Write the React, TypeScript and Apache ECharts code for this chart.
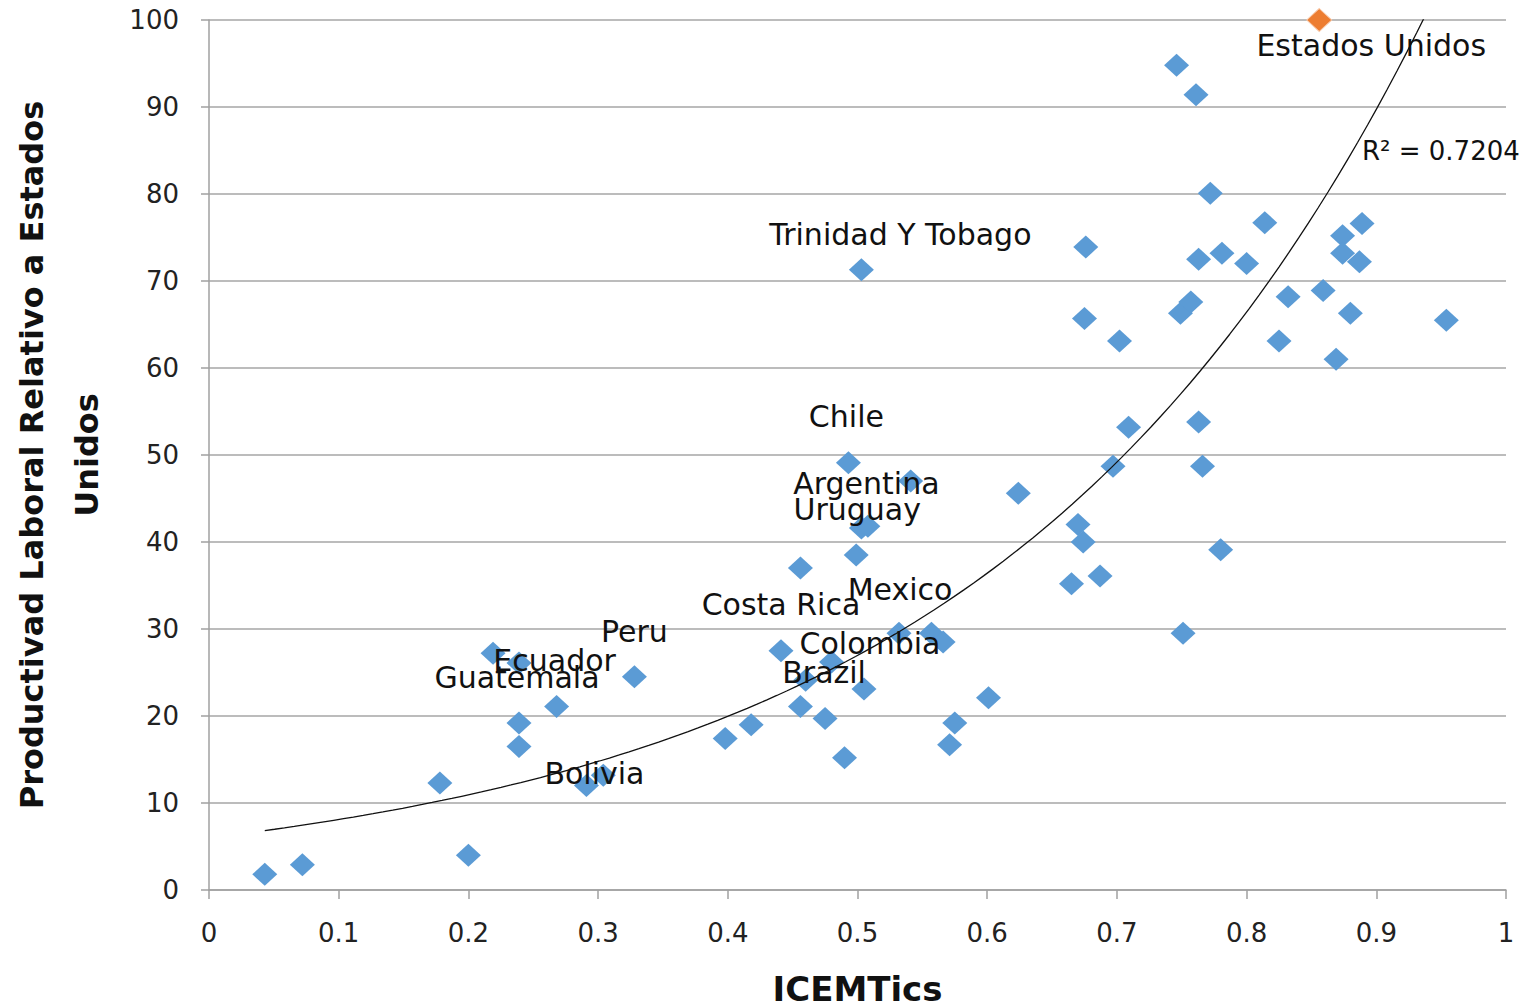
import React, { useEffect, useRef } from "react";
import * as echarts from "echarts";

// ICEMTics (x) and relative labour productivity (y) for the blue series
const xValues = [
  0.043, 0.072, 0.178, 0.2, 0.219, 0.239, 0.239, 0.239, 0.268, 0.291,
  0.304, 0.328, 0.398, 0.418, 0.441, 0.456, 0.456, 0.46, 0.475, 0.48,
  0.49, 0.493, 0.499, 0.503, 0.503, 0.508, 0.505, 0.541, 0.532, 0.557,
  0.566, 0.571, 0.575, 0.601, 0.624, 0.665, 0.67, 0.674, 0.675, 0.676,
  0.687, 0.697, 0.702, 0.709, 0.746, 0.749, 0.757, 0.751, 0.761, 0.763,
  0.763, 0.766, 0.772, 0.78, 0.781, 0.8, 0.814, 0.825, 0.832, 0.859,
  0.869, 0.874, 0.874, 0.88, 0.887, 0.889, 0.954,
];
const yValues = [
  1.8, 2.9, 12.3, 4.0, 27.2, 26.1, 19.2, 16.5, 21.1, 12.0,
  13.2, 24.5, 17.4, 19.0, 27.5, 37.0, 21.1, 24.1, 19.7, 26.2,
  15.2, 49.1, 38.5, 71.3, 41.6, 41.8, 23.1, 47.0, 29.5, 29.5,
  28.5, 16.7, 19.2, 22.1, 45.6, 35.2, 42.0, 40.0, 65.7, 73.9,
  36.1, 48.7, 63.1, 53.2, 94.8, 66.3, 67.6, 29.5, 91.4, 72.5,
  53.8, 48.7, 80.1, 39.1, 73.2, 72.0, 76.7, 63.1, 68.2, 68.9,
  61.0, 75.2, 73.2, 66.3, 72.2, 76.6, 65.5,
];
const pointNames = [
  "", "", "", "", "", "", "Guatemala", "", "Ecuador", "Bolivia",
  "", "Peru", "", "", "Costa Rica", "", "", "", "Brazil", "",
  "", "Chile", "Uruguay", "Trinidad Y Tobago", "Argentina", "", "Colombia", "", "Mexico", "",
  "", "", "", "", "", "", "", "", "", "",
  "", "", "", "", "", "", "", "", "", "",
  "", "", "", "", "", "", "", "", "", "",
  "", "", "", "", "", "", "",
];

// Reference country (orange series)
const usX = [0.856];
const usY = [100];
const usNames = ["Estados Unidos"];

const xTicks = { min: 0, max: 1, interval: 0.1 };
const yTicks = { min: 0, max: 100, interval: 10 };
const rSquaredLabel = "R² = 0.7204";
const xTitle = "ICEMTics";
const yTitle = "Productivad Laboral Relativo a Estados\nUnidos";

// label placement (style), relative to the point centre
const labelOffsets: Record<string, number[]> = {
  "Estados Unidos": [52, 25],
  "Trinidad Y Tobago": [39, -35],
  Chile: [-2, -46],
  Argentina: [5, -45],
  Uruguay: [1, -46],
  Mexico: [1, -44],
  "Costa Rica": [0, -46],
  Peru: [0, -45],
  Colombia: [6, -46],
  Brazil: [-1, -46],
  Ecuador: [-2, -46],
  Guatemala: [-2, -45],
  Bolivia: [8, -12],
};

const FONT = "DejaVu Sans";
const TEXT_COLOR = "#111111";

function exponentialFit(xs: number[], ys: number[]) {
  const n = xs.length;
  let sx = 0, sy = 0, sxx = 0, sxy = 0;
  for (let i = 0; i < n; i++) {
    const ly = Math.log(ys[i]);
    sx += xs[i];
    sy += ly;
    sxx += xs[i] * xs[i];
    sxy += xs[i] * ly;
  }
  const b = (n * sxy - sx * sy) / (n * sxx - sx * sx);
  const lnA = (sy - b * sx) / n;
  return { a: Math.exp(lnA), b };
}

export default function App() {
  const ref = useRef<HTMLDivElement>(null);
  useEffect(() => {
    if (!ref.current) return;
    const chart = echarts.init(ref.current, undefined, { renderer: "svg" });

    const allX = xValues.concat(usX);
    const allY = yValues.concat(usY);
    const fit = exponentialFit(allX, allY);
    const xMin = Math.min(...xValues);
    const xMax = Math.max(...allX);
    const steps = 120;
    const trend: number[][] = [];
    for (let i = 0; i <= steps; i++) {
      const x = xMin + ((xMax - xMin) * i) / steps;
      trend.push([x, fit.a * Math.exp(fit.b * x)]);
    }

    const mkPoint = (x: number, y: number, name: string) => ({
      value: [x, y],
      name,
      label: name
        ? { show: true, color: TEXT_COLOR, offset: labelOffsets[name] || [0, -40] }
        : { show: false },
    });

    const labelStyle = {
      position: "inside" as const,
      formatter: "{b}",
      fontFamily: FONT,
      fontSize: 30,
      color: TEXT_COLOR,
    };

    chart.setOption({
      animation: false,
      backgroundColor: "#ffffff",
      textStyle: { fontFamily: FONT },
      grid: { left: 209, right: 24, top: 20, bottom: 118, outerBoundsMode: "none" },
      xAxis: {
        type: "value",
        min: xTicks.min,
        max: xTicks.max,
        interval: xTicks.interval,
        name: xTitle,
        nameLocation: "middle",
        nameGap: 82,
        nameTextStyle: { fontFamily: FONT, fontWeight: "bold", fontSize: 34, color: TEXT_COLOR },
        axisLine: { show: true, lineStyle: { color: "#a0a0a0", width: 1.5 } },
        axisTick: { show: true, length: 9, lineStyle: { color: "#a0a0a0", width: 1.5 } },
        axisLabel: { fontFamily: FONT, fontSize: 26, color: "#222", margin: 30 },
        splitLine: { show: false },
      },
      yAxis: {
        type: "value",
        min: yTicks.min,
        max: yTicks.max,
        interval: yTicks.interval,
        name: yTitle,
        nameLocation: "middle",
        nameGap: 95,
        nameTextStyle: {
          fontFamily: FONT,
          fontWeight: "bold",
          fontSize: 32,
          color: TEXT_COLOR,
          lineHeight: 55,
          align: "center",
        },
        axisLine: { show: true, lineStyle: { color: "#a0a0a0", width: 1.5 } },
        axisTick: { show: true, length: 8, lineStyle: { color: "#a0a0a0", width: 1.5 } },
        axisLabel: { fontFamily: FONT, fontSize: 26, color: "#222", margin: 30 },
        splitLine: { show: true, lineStyle: { color: "#a6a6a6", width: 1.5 } },
      },
      series: [
        {
          type: "scatter",
          symbol: "diamond",
          symbolSize: [25, 23],
          itemStyle: { color: "#5B9BD5", opacity: 1 },
          label: labelStyle,
          z: 2,
          data: xValues.map((x, i) => mkPoint(x, yValues[i], pointNames[i])),
        },
        {
          type: "scatter",
          symbol: "diamond",
          symbolSize: [25, 23],
          itemStyle: { color: "#ED7D31", borderColor: "#f8cbad", borderWidth: 1, opacity: 1 },
          label: labelStyle,
          z: 2,
          data: usX.map((x, i) => mkPoint(x, usY[i], usNames[i])),
        },
        {
          type: "line",
          data: trend,
          showSymbol: false,
          symbol: "none",
          smooth: false,
          clip: true,
          silent: true,
          lineStyle: { color: "#111", width: 1.3 },
          z: 3,
        },
      ],
      graphic: [
        {
          type: "text",
          left: 1362,
          top: 138,
          style: { text: rSquaredLabel, fontFamily: FONT, fontSize: 26, fill: TEXT_COLOR },
        },
      ],
    });
    return () => chart.dispose();
  }, []);
  return (
    <div
      ref={ref}
      style={{ position: "absolute", left: 0, top: 0, width: 1530, height: 1008 }}
    />
  );
}
